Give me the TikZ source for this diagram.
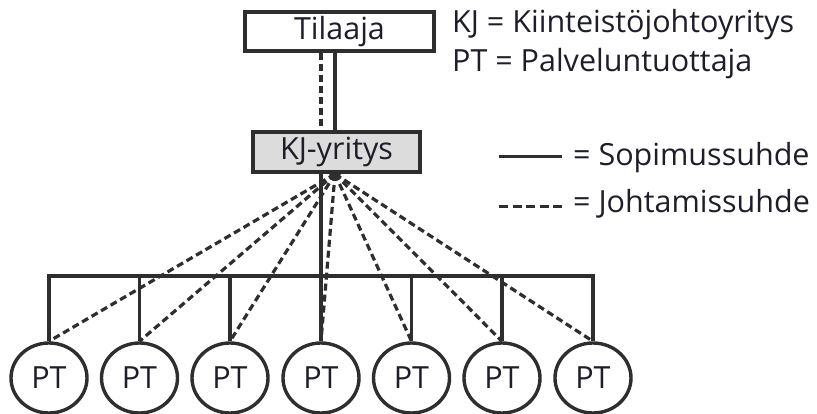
\documentclass[tikz,border=0pt]{standalone}
\usepackage{fontspec}
\setmainfont{Open Sans}
\usetikzlibrary{shapes.geometric}
\definecolor{ink}{HTML}{2E2E2E}
\definecolor{txt}{HTML}{1E1E2A}
\definecolor{kjfill}{HTML}{DCDCDC}
\begin{document}
\begin{tikzpicture}[x=1pt,y=-1pt,
  every node/.style={text=txt},
  boxnode/.style={draw=ink,line width=3.4pt,inner sep=0pt,font=\fontsize{30.5}{34}\selectfont},
  ptnode/.style={draw=ink,line width=3.4pt,ellipse,minimum width=76pt,minimum height=70pt,inner sep=0pt,font=\fontsize{30.5}{34}\selectfont},
  solidline/.style={draw=ink,line width=3.4pt},
  dashline/.style={draw=ink,line width=3.2pt,dash pattern=on 7pt off 4pt},
  legend/.style={anchor=base west,inner sep=0pt,font=\fontsize{30.5}{34}\selectfont}]
\useasboundingbox (0,0) rectangle (817,414);
% boxes
\node[boxnode,minimum width=189pt,minimum height=39pt] (til) at (339.5,31.5) {Tilaaja};
\node[boxnode,fill=kjfill,minimum width=167pt,minimum height=40pt] (kj) at (336.5,152) {KJ-yritys};
% PT nodes
\foreach \i/\x in {1/49,2/139.5,3/230,4/321,5/411.5,6/502,7/593}{
  \node[ptnode] (pt\i) at (\x,378) {PT};
}
% top connectors
\draw[solidline] (til.south -| 335,0) -- (kj.north -| 335,0);
\draw[dashline] (til.south -| 321,0) -- (kj.north -| 321,0);
% hub
\coordinate (hub) at (335,174);
\fill[ink] (hub) ellipse (6pt and 3.5pt);
% bar
\coordinate (barL) at (49,276);
\coordinate (barR) at (593,276);
\draw[solidline] (pt1.north) -- (barL) -- (barR) -- (pt7.north);
\foreach \i in {2,3,5,6}{
  \draw[solidline] (pt\i.north) -- (pt\i.north |- barL);
}
\draw[solidline] (kj.south -| pt4.north) -- (pt4.north);
% dashed fan
\foreach \i in {1,...,7}{
  \draw[dashline] (hub) -- (pt\i.north);
}
% legend
\node[legend] (l1) at (452,33) {KJ = Kiinteistöjohtoyritys};
\node[legend] (l2) at (452,72) {PT = Palveluntuottaja};
\coordinate (s1) at (499,157);
\coordinate (s2) at (562,157);
\draw[line width=3pt,ink] (s1) -- (s2);
\node[legend] (l3) at (573,166) {= Sopimussuhde};
\coordinate (d1) at (499,207);
\coordinate (d2) at (562,207);
\draw[line width=3pt,ink,dash pattern=on 9pt off 4.5pt] (d1) -- (d2);
\node[legend] (l4) at (573,213) {= Johtamissuhde};
\end{tikzpicture}
\end{document}
